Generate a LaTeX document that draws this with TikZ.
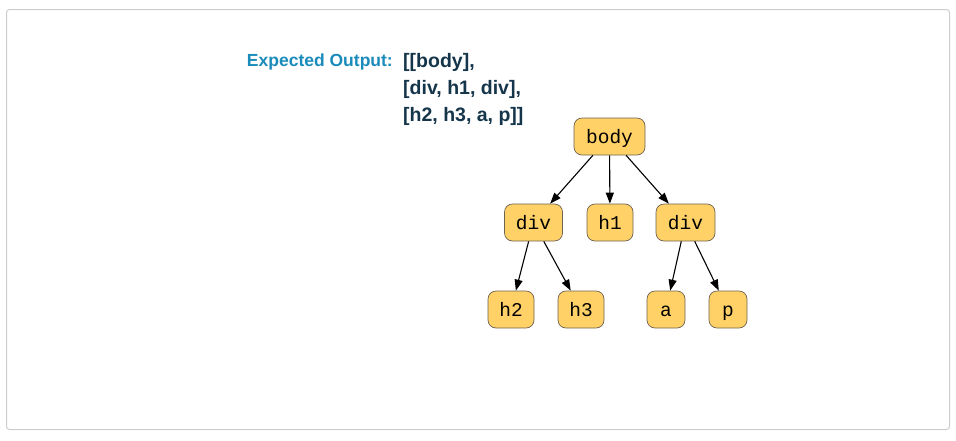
\documentclass[tikz,border=0pt]{standalone}
\usepackage{fontspec}
\setmainfont{Liberation Sans}
\newfontfamily\monofont{Liberation Mono}
\usetikzlibrary{arrows.meta}
\definecolor{frameC}{HTML}{CCCCCC}
\definecolor{labelC}{HTML}{1A8BBA}
\definecolor{outC}{HTML}{15354A}
\definecolor{nodeFill}{HTML}{FFD166}
\definecolor{nodeLine}{HTML}{6E6250}
\tikzset{
  treenode/.style={draw=nodeLine, fill=nodeFill, line width=0.7pt, rounded corners=8pt,
    minimum height=37pt, inner sep=0pt, text height=13pt, text depth=0pt,
    font=\monofont\fontsize{19.5}{22}\selectfont, text=black},
  lbl/.style={inner sep=0pt, font=\bfseries\fontsize{17.5}{21}\selectfont},
  outlbl/.style={inner sep=0pt, font=\bfseries\fontsize{19.5}{23}\selectfont, text=outC, anchor=base west},
  edge/.style={line width=1.1pt, -{Triangle[length=11pt,width=8pt]}}
}
\begin{document}
\begin{tikzpicture}[x=1pt,y=-1pt]
\useasboundingbox (0,0) rectangle (956,440);
\draw[frameC, line width=1pt, rounded corners=3pt] (6.5,9.5) rectangle (949.5,429.5);

\node[lbl, text=labelC, anchor=base east] (lab) at (393,66) {Expected Output:};
\node[outlbl] (out1) at (403,67) {[[body],};
\node[outlbl] (out2) at (403,94) {[div, h1, div],};
\node[outlbl] (out3) at (403,121) {[h2, h3, a, p]]};

\node[treenode, minimum width=71pt] (body) at (609.5,136.5) {body};
\node[treenode, minimum width=58pt] (divL) at (533.5,222.5) {div};
\node[treenode, minimum width=46pt] (h1) at (610,222.5) {h1};
\node[treenode, minimum width=59pt] (divR) at (685.5,222.5) {div};
\node[treenode, minimum width=46pt] (h2) at (511,309.5) {h2};
\node[treenode, minimum width=46pt] (h3) at (581,309.5) {h3};
\node[treenode, minimum width=38pt] (a) at (666,309.5) {a};
\node[treenode, minimum width=38pt] (p) at (728,309.5) {p};

\draw[edge] (body) -- (divL);
\draw[edge] (body) -- (h1);
\draw[edge] (body) -- (divR);
\draw[edge] (divL) -- (h2);
\draw[edge] (divL) -- (h3);
\draw[edge] (divR) -- (a);
\draw[edge] (divR) -- (p);
\end{tikzpicture}
\end{document}
